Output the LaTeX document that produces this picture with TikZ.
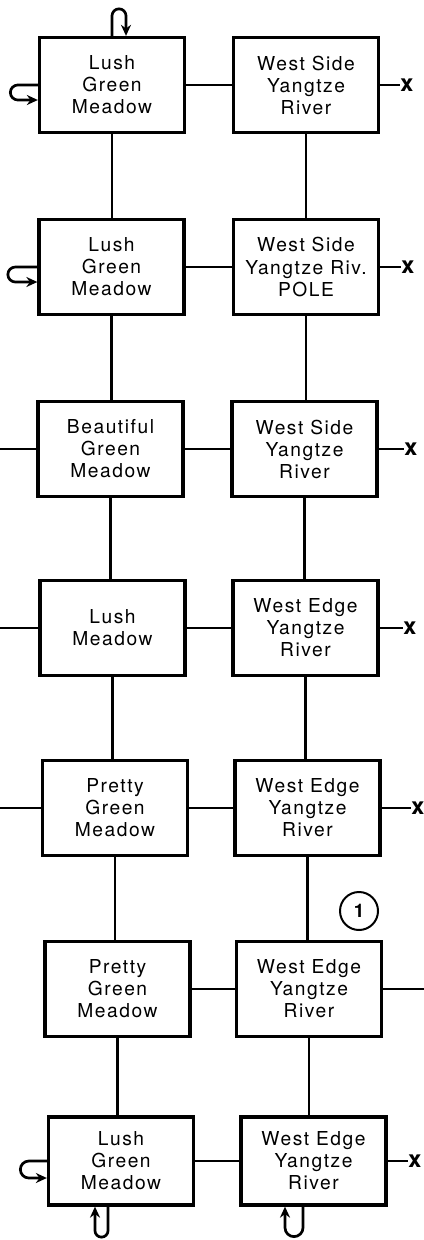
\documentclass[tikz,border=0pt]{standalone}
\usepackage{fontspec}
\setmainfont{TeX Gyre Heros}[LetterSpace=8]
\usetikzlibrary{arrows.meta}
\begin{document}
\begin{tikzpicture}[x=0.3mm,y=0.3mm,
    block/.style={draw,line width=2.8pt,minimum width=43.5mm,minimum height=28.5mm,inner sep=0pt,align=center,font=\fontsize{16.4}{18.8}\selectfont},
    link/.style={line width=2pt},
    hook/.style={line width=2.3pt,-{Stealth[length=3.3mm,width=3mm]}},
    xmark/.style={inner sep=0.6pt,font=\fontsize{20}{20}\selectfont\bfseries},
    num/.style={circle,draw,line width=1.7pt,minimum size=11.4mm,inner sep=0pt,font=\fontsize{16}{16}\selectfont\bfseries}]

\useasboundingbox (0,0) rectangle (424,-1240);

\node[block] (m1) at (112,-85) {Lush\\Green\\Meadow};
\node[block] (r1) at (306,-85) {West Side\\Yangtze\\River};
\node[block] (m2) at (111.5,-267) {Lush\\Green\\Meadow};
\node[block] (r2) at (306,-267) {West Side\\Yangtze Riv.\\POLE};
\node[block] (m3) at (110.5,-449) {Beautiful\\Green\\Meadow};
\node[block] (r3) at (304.5,-449) {West Side\\Yangtze\\River};
\node[block] (m4) at (112.5,-628) {Lush\\Meadow};
\node[block] (r4) at (305.5,-628) {West Edge\\Yangtze\\River};
\node[block] (m5) at (115,-808) {Pretty\\Green\\Meadow};
\node[block] (r5) at (307.5,-808) {West Edge\\Yangtze\\River};
\node[block] (m6) at (117.5,-989) {Pretty\\Green\\Meadow};
\node[block] (r6) at (309,-989) {West Edge\\Yangtze\\River};
\node[block,minimum height=26.4mm] (m7) at (121,-1161) {Lush\\Green\\Meadow};
\node[block,minimum height=26.4mm] (r7) at (313.5,-1161) {West Edge\\Yangtze\\River};

\node[num] (n1) at (359,-911) {1};

\node[xmark] (x1) at (407,-85) {x};
\node[xmark] (x2) at (408,-267) {x};
\node[xmark] (x3) at (411,-449) {x};
\node[xmark] (x4) at (410,-628) {x};
\node[xmark] (x5) at (418,-808) {x};
\node[xmark] (x7) at (415,-1161) {x};

\coordinate (w3) at (0,-449);
\coordinate (w4) at (0,-628);
\coordinate (w5) at (0,-808);
\coordinate (e6) at (424,-989);

\draw[link] (m1) -- (r1);
\draw[link] (m2) -- (r2);
\draw[link] (m3) -- (r3);
\draw[link] (m4) -- (r4);
\draw[link] (m5) -- (r5);
\draw[link] (m6) -- (r6);
\draw[link] (m7) -- (r7);

\draw[link] (m1.south) -- (m1.south |- m2.north);
\draw[link] (m2.south) -- (m2.south |- m3.north);
\draw[link] (m3.south) -- (m3.south |- m4.north);
\draw[link] (m4.south) -- (m4.south |- m5.north);
\draw[link] (m5.south) -- (m5.south |- m6.north);
\draw[link] (m6.south) -- (m6.south |- m7.north);
\draw[link] (r1.south) -- (r1.south |- r2.north);
\draw[link] (r2.south) -- (r2.south |- r3.north);
\draw[link] (r3.south) -- (r3.south |- r4.north);
\draw[link] (r4.south) -- (r4.south |- r5.north);
\draw[link] (r5.south) -- (r5.south |- r6.north);
\draw[link] (r6.south) -- (r6.south |- r7.north);

\draw[link] (r1) -- (x1);
\draw[link] (r2) -- (x2);
\draw[link] (r3) -- (x3);
\draw[link] (r4) -- (x4);
\draw[link] (r5) -- (x5);
\draw[link] (r6) -- (e6);
\draw[link] (r7) -- (x7);
\draw[link] (w3) -- (m3);
\draw[link] (w4) -- (m4);
\draw[link] (w5) -- (m5);

\draw[hook] (m1.west) -- ++(-20,0) arc[start angle=90,end angle=270,radius=2.25mm] -- ++(20,0);
\draw[hook] (m1.north) -- ++(0,20) arc[start angle=180,end angle=0,radius=2.1mm] -- ++(0,-20);
\draw[hook] (m2.west) -- ++(-22,0) arc[start angle=90,end angle=270,radius=2.25mm] -- ++(22,0);
\draw[hook] (m7.west) -- ++(-18,0) arc[start angle=90,end angle=270,radius=2.55mm] -- ++(18,0);
\draw[hook] ([xshift=-3.9mm]m7.south) -- ++(0,-24) arc[start angle=0,end angle=-180,radius=1.95mm] -- ++(0,24);
\draw[hook] ([xshift=-3.15mm]r7.south) -- ++(0,-21) arc[start angle=0,end angle=-180,radius=2.7mm] -- ++(0,21);
\end{tikzpicture}
\end{document}
